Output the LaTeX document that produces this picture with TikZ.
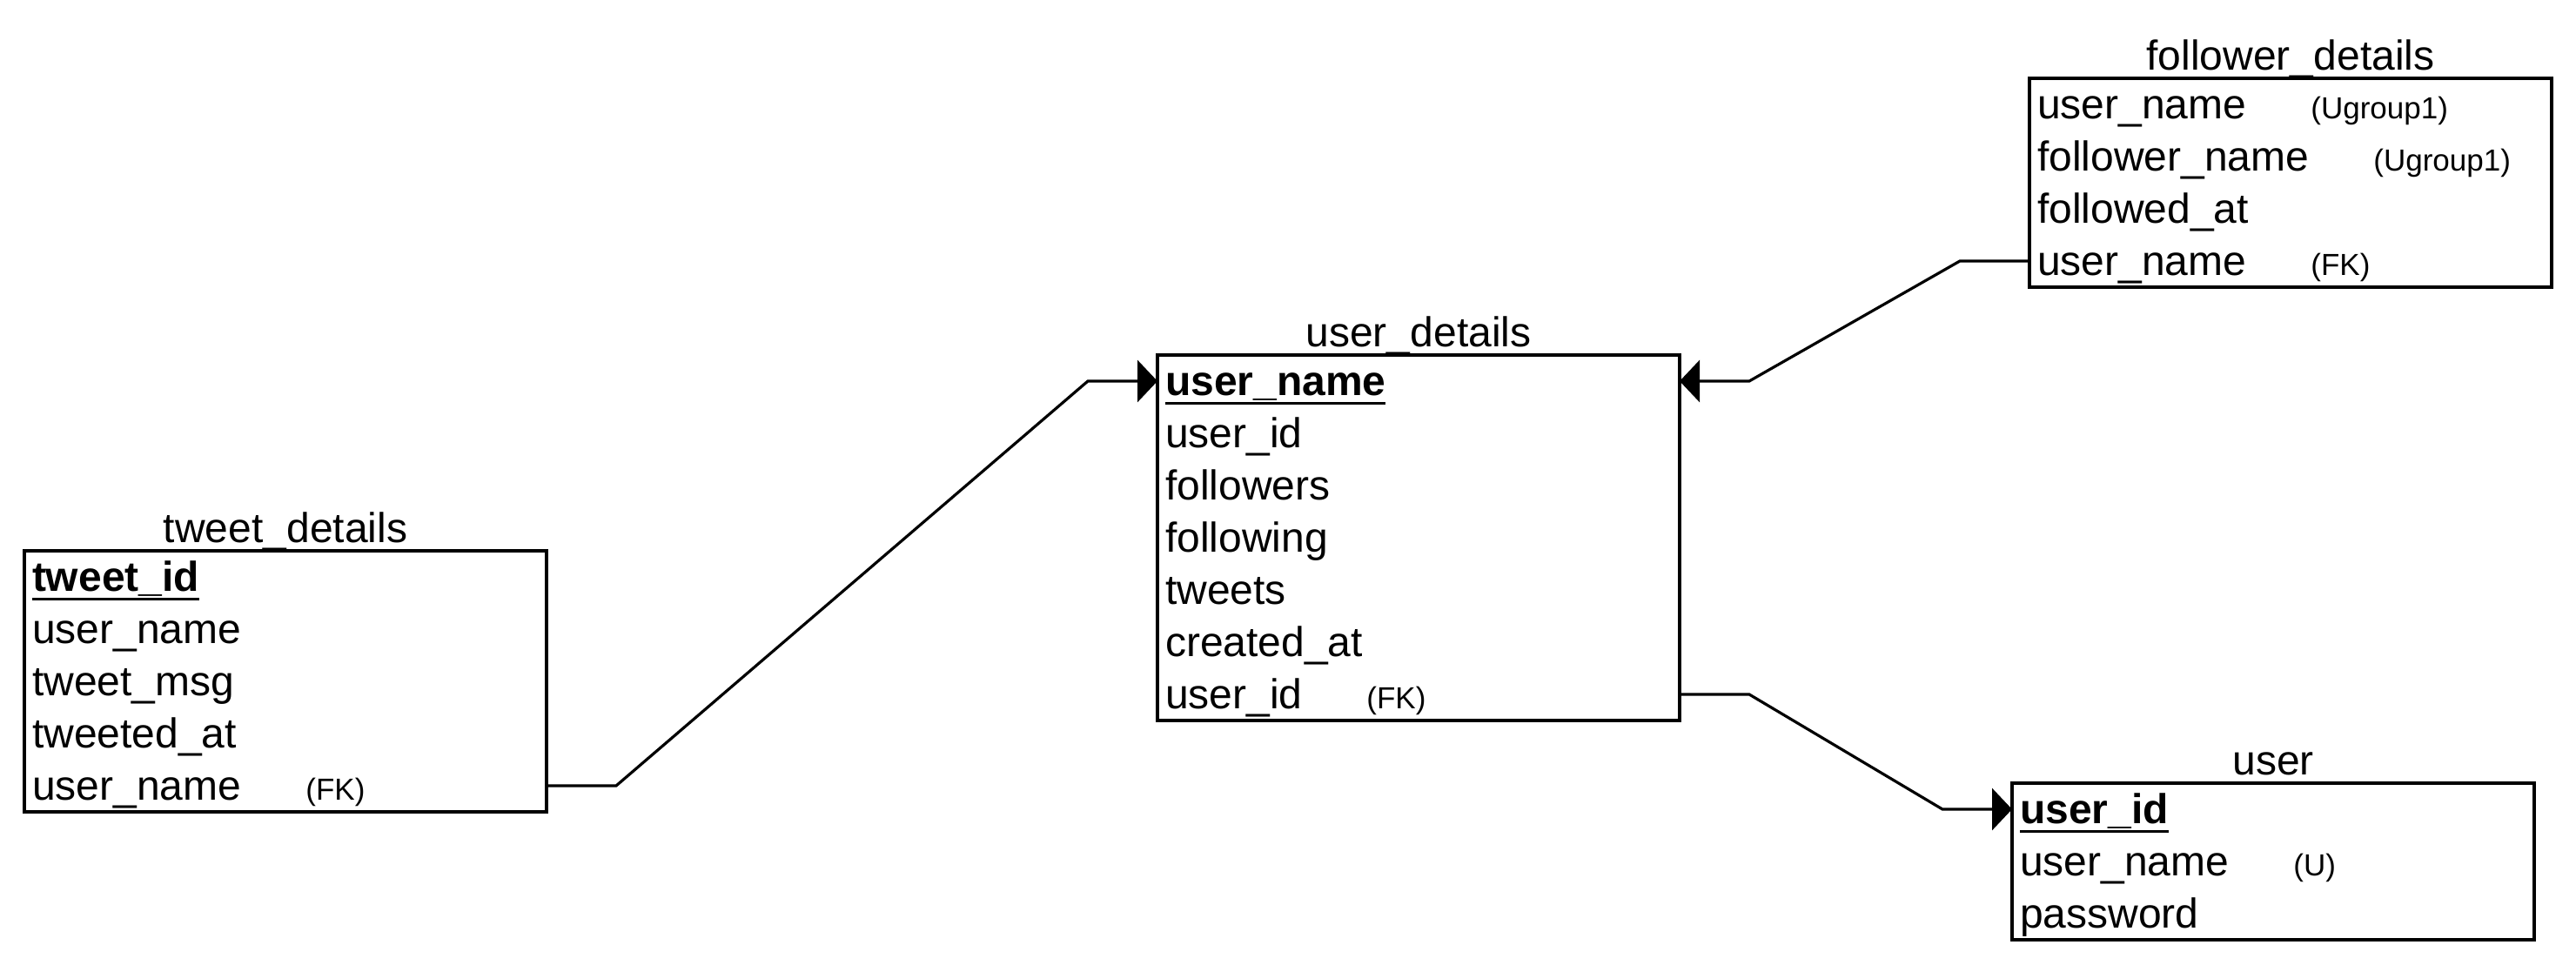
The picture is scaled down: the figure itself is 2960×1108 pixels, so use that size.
\documentclass[tikz,border=0pt]{standalone}
\usepackage{fontspec}
\setmainfont{Liberation Sans}
\usetikzlibrary{arrows.meta}
\usetikzlibrary{positioning,fit}
\newcommand{\pkey}[1]{\setbox0\hbox{#1}\rlap{\rule[-5.25pt]{\wd0}{1.5pt}}\box0}

\begin{document}
\begin{tikzpicture}[%
        x=0.5pt, y=-0.5pt,
        every node/.style={inner sep=0pt},
        row/.style={rectangle, minimum height=30pt, text width=291pt, inner xsep=4.5pt, inner ysep=0pt, outer sep=0pt, align=left, text height=19pt, text depth=3pt, font=\fontsize{24}{28}\selectfont},
        key/.style={row, font=\fontsize{24}{28}\selectfont\bfseries},
        tag/.style={anchor=base west, font=\fontsize{17.5}{21}\selectfont},
        table/.style={draw, line width=2pt, inner sep=0pt},
        title/.style={anchor=base, font=\fontsize{24}{28}\selectfont},
        link/.style={line width=1.6pt},
        fk/.style={link, -{Triangle[length=11.5pt, width=24pt]}},
        node distance=0pt
      ]
      \useasboundingbox (0,0) rectangle (2960,1108);

      \node [key, anchor=north west] (t1) at (28,633) {\pkey{tweet\_id}};
      \node [row, below=of t1] (t2) {user\_name};
      \node [row, below=of t2] (t3) {tweet\_msg};
      \node [row, below=of t3] (t4) {tweeted\_at};
      \node [row, below=of t4] (t5) {user\_name};
      \node [tag] (t5k) at ([xshift=161.5pt]t5.base west) {(FK)};
      \node [table, fit=(t1)(t5)] (tweet) {};
      \node [title] (tweettitle) at ([yshift=4pt]tweet.north) {tweet\_details};

      \node [key, anchor=north west] (d1) at (1330,408) {\pkey{user\_name}};
      \node [row, below=of d1] (d2) {user\_id};
      \node [row, below=of d2] (d3) {followers};
      \node [row, below=of d3] (d4) {following};
      \node [row, below=of d4] (d5) {tweets};
      \node [row, below=of d5] (d6) {created\_at};
      \node [row, below=of d6] (d7) {user\_id};
      \node [tag] (d7k) at ([xshift=120pt]d7.base west) {(FK)};
      \node [table, fit=(d1)(d7)] (details) {};
      \node [title] (detailstitle) at ([yshift=4pt]details.north) {user\_details};

      \node [row, anchor=north west] (f1) at (2332,90) {user\_name};
      \node [row, below=of f1] (f2) {follower\_name};
      \node [row, below=of f2] (f3) {followed\_at};
      \node [row, below=of f3] (f4) {user\_name};
      \node [tag] (f1k) at ([xshift=161.5pt]f1.base west) {(Ugroup1)};
      \node [tag] (f2k) at ([xshift=197.5pt]f2.base west) {(Ugroup1)};
      \node [tag] (f4k) at ([xshift=161.5pt]f4.base west) {(FK)};
      \node [table, fit=(f1)(f4)] (follower) {};
      \node [title] (followertitle) at ([yshift=4pt]follower.north) {follower\_details};

      \node [key, anchor=north west] (u1) at (2312,900) {\pkey{user\_id}};
      \node [row, below=of u1] (u2) {user\_name};
      \node [row, below=of u2] (u3) {password};
      \node [tag] (u2k) at ([xshift=161.5pt]u2.base west) {(U)};
      \node [table, fit=(u1)(u3)] (user) {};
      \node [title] (usertitle) at ([yshift=4pt]user.north) {user};

      \draw [fk] (t5.east) -- ++(80,0) -- ([xshift=-40pt]d1.west) -- (d1.west);
      \draw [fk] (f4.west) -- ++(-80,0) -- ([xshift=40pt]d1.east) -- (d1.east);
      \draw [fk] (d7.east) -- ++(80,0) -- ([xshift=-40pt]u1.west) -- (u1.west);
    \end{tikzpicture}
\end{document}
